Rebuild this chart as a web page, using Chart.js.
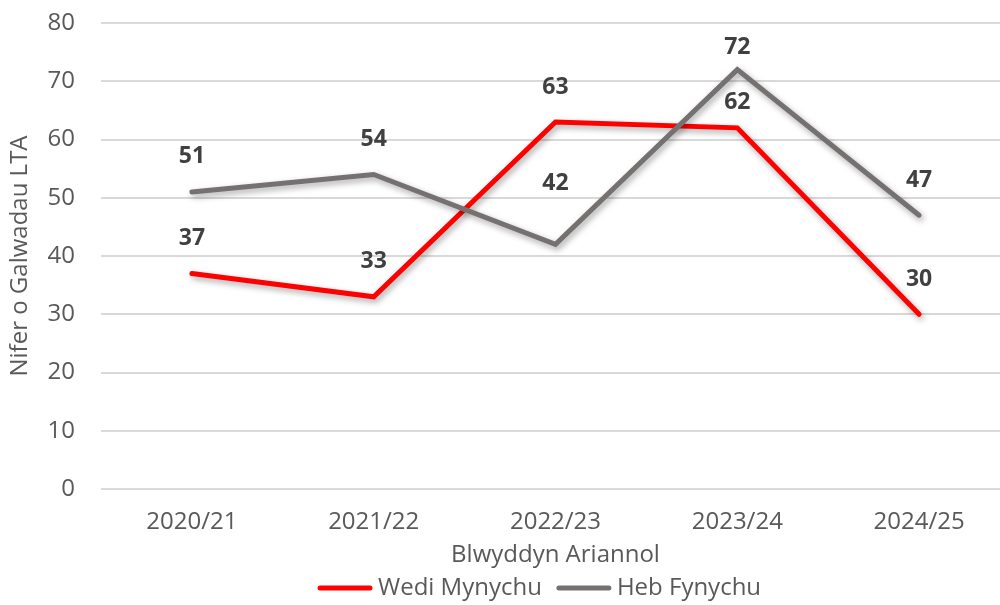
<!DOCTYPE html>
<html>
<head>
<meta charset="utf-8">
<script src="https://cdn.jsdelivr.net/npm/chart.js@4"></script>
<style>
  html, body { margin: 0; padding: 0; background: #fff; overflow: hidden; }
  #wrap { width: 1012px; height: 605px; position: relative; }
</style>
</head>
<body>
<div id="wrap"><canvas id="grafica"></canvas></div>
<script>
// data
const blynyddoedd = ["2020/21", "2021/22", "2022/23", "2023/24", "2024/25"];
const wediMynychu = [37, 33, 63, 62, 30];
const hebFynychu = [51, 54, 42, 72, 47];
const yTicks = [0, 10, 20, 30, 40, 50, 60, 70, 80];

const FONT = "'Open Sans', sans-serif";
const TEXT = "#595959";

// labels over the points, a few were nudged in the original
const labelLift = [
    [35, 35, 35, 25, 35],
    [35, 35, 61, 22, 35]
];

const shadowPlugin = {
    id: "shadow",
    beforeDatasetDraw(chart) {
        const ctx = chart.ctx;
        ctx.save();
        ctx.shadowColor = "rgba(0,0,0,0.35)";
        ctx.shadowBlur = 6;
        ctx.shadowOffsetX = 2;
        ctx.shadowOffsetY = 3;
    },
    afterDatasetDraw(chart) {
        chart.ctx.restore();
    }
};

const labelPlugin = {
    id: "pointLabels",
    afterDatasetsDraw(chart) {
        const ctx = chart.ctx;
        ctx.save();
        ctx.font = "bold 23px " + FONT;
        ctx.fillStyle = "#404040";
        ctx.textAlign = "center";
        ctx.textBaseline = "middle";
        chart.data.datasets.forEach(function(ds, i) {
            const meta = chart.getDatasetMeta(i);
            meta.data.forEach(function(pt, j) {
                ctx.fillText(String(ds.data[j]), pt.x, pt.y - labelLift[i][j]);
            });
        });
        ctx.restore();
    }
};

// legend like the original: short thick line, text right after it
const legendPlugin = {
    id: "bottomLegend",
    afterDraw(chart) {
        const ctx = chart.ctx;
        const y = 588;
        let x = 318;
        ctx.save();
        ctx.font = "24px " + FONT;
        ctx.textBaseline = "middle";
        chart.data.datasets.forEach(function(ds) {
            ctx.strokeStyle = ds.borderColor;
            ctx.lineWidth = 5;
            ctx.lineCap = "round";
            ctx.beginPath();
            ctx.moveTo(x + 2, y);
            ctx.lineTo(x + 52, y);
            ctx.stroke();
            ctx.fillStyle = TEXT;
            ctx.fillText(ds.label, x + 60, y);
            x += 60 + ctx.measureText(ds.label).width + 15;
        });
        ctx.restore();
    }
};

const ctx = document.getElementById("grafica").getContext("2d");
const chart = new Chart(ctx, {
    type: "line",
    data: {
        labels: blynyddoedd,
        datasets: [
            {
                label: "Wedi Mynychu",
                data: wediMynychu,
                borderColor: "#ff0000",
                borderWidth: 5,
                borderCapStyle: "round",
                pointRadius: 0,
                tension: 0,
                order: 1
            },
            {
                label: "Heb Fynychu",
                data: hebFynychu,
                borderColor: "#767171",
                borderWidth: 5,
                borderCapStyle: "round",
                pointRadius: 0,
                tension: 0,
                order: 0
            }
        ]
    },
    options: {
        animation: false,
        responsive: true,
        maintainAspectRatio: false,
        layout: { padding: { top: 23, right: 2, bottom: 35, left: 0 } },
        plugins: {
            tooltip: { enabled: false },
            legend: { display: false }
        },
        scales: {
            x: {
                offset: true,
                afterFit: function(axis) {
                    axis.height = 81;
                    axis.paddingLeft = 0;
                    axis.paddingRight = 0;
                },
                grid: { display: false, drawTicks: false },
                border: { display: false },
                ticks: {
                    font: { family: FONT, size: 24 },
                    color: TEXT,
                    padding: 19,
                    maxRotation: 0
                },
                title: {
                    display: true,
                    text: "Blwyddyn Ariannol",
                    font: { family: FONT, size: 24 },
                    color: TEXT,
                    padding: { top: 0, bottom: 0 }
                }
            },
            y: {
                min: 0,
                max: 80,
                afterBuildTicks: function(axis) {
                    axis.ticks = yTicks.map(function(v) { return { value: v }; });
                },
                afterFit: function(axis) {
                    axis.width = 101;
                    axis.paddingTop = 0;
                    axis.paddingBottom = 0;
                },
                grid: { color: "#d9d9d9", lineWidth: 2, drawTicks: false },
                border: { display: false },
                ticks: {
                    font: { family: FONT, size: 24 },
                    color: TEXT,
                    padding: 26
                },
                title: {
                    display: true,
                    text: "Nifer o Galwadau LTA",
                    font: { family: FONT, size: 24 },
                    color: TEXT,
                    padding: { top: 6, bottom: 0 }
                }
            }
        }
    },
    plugins: [shadowPlugin, labelPlugin, legendPlugin]
});
</script>
</body>
</html>
